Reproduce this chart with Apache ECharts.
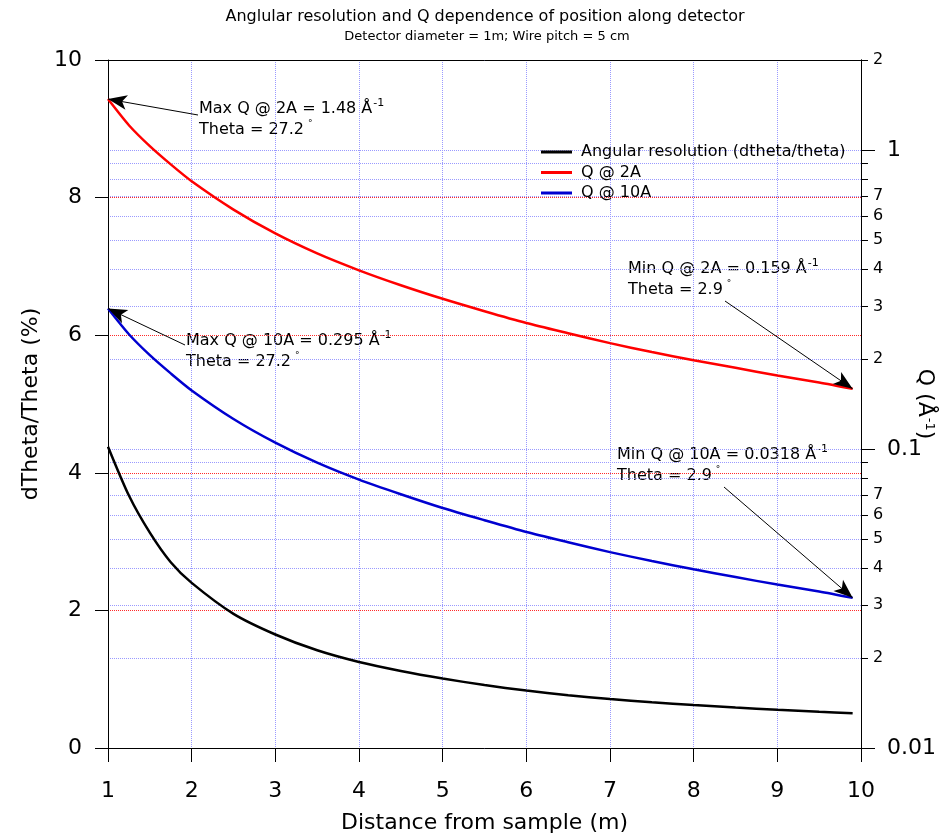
<!DOCTYPE html>
<html>
<head>
<meta charset="utf-8">
<script src="https://cdn.jsdelivr.net/npm/echarts@6/dist/echarts.min.js"></script>
<style>
  html, body { margin: 0; padding: 0; background: #fff; }
  #chart { width: 943px; height: 840px; }
</style>
</head>
<body>
<div id="chart"></div>
<script>
// Sample-to-detector distance (m)
const distance = [1, 1.25, 1.5, 1.75, 2, 2.5, 3, 3.5, 4, 4.5, 5, 5.5, 6, 6.5, 7, 7.5, 8, 8.5, 9, 9.5, 9.9];
// Angular resolution dTheta/Theta (%)
const angularResolution = [4.38, 3.67, 3.13, 2.70, 2.40, 1.95, 1.65, 1.42, 1.25, 1.12, 1.01, 0.915, 0.835, 0.768, 0.712, 0.665, 0.624, 0.588, 0.556, 0.527, 0.506];
// Q (1/Å) at 2 Å and 10 Å wavelength
const q2A = [1.48, 1.21, 1.03, 0.895, 0.786, 0.632, 0.526, 0.451, 0.396, 0.353, 0.318, 0.289, 0.264, 0.244, 0.226, 0.211, 0.198, 0.187, 0.176, 0.167, 0.159];
const q10A = [0.295, 0.242, 0.206, 0.179, 0.157, 0.126, 0.105, 0.090, 0.0790, 0.0706, 0.0635, 0.0578, 0.0528, 0.0488, 0.0452, 0.0422, 0.0396, 0.0373, 0.0352, 0.0334, 0.0318];
// Scattering angle (deg) at nearest / farthest position
const thetaRange = [27.2, 2.9];

// Axis ticks
const qMajorTicks = [0.01, 0.1, 1];
const qMinorTicks = [0.02, 0.03, 0.04, 0.05, 0.06, 0.07, 0.08, 0.09,
                     0.2, 0.3, 0.4, 0.5, 0.6, 0.7, 0.8, 0.9, 2];
const qMinorLabels = [0.02, 0.03, 0.04, 0.05, 0.06, 0.07,
                      0.2, 0.3, 0.4, 0.5, 0.6, 0.7, 2];

const FONT = 'DejaVu Sans';
const BLUE_GRID = '#9a9aff';
const RED_GRID = '#ff2a2a';
const last = distance.length - 1;

const pairs = (ys) => distance.map((x, i) => [x, ys[i]]);
const firstDigit = (v) => String(Math.round(v / Math.pow(10, Math.floor(Math.log10(v) + 1e-9))));

const supRich = {
  sup: { fontSize: 11, fontFamily: FONT, verticalAlign: 'top', padding: [0, 0, 8, 1] },
  deg: { fontSize: 9, fontFamily: FONT, verticalAlign: 'top', padding: [0, 0, 10, 4] }
};

function noteText(prefix, q, theta) {
  return prefix + ' = ' + q + ' Å{sup|-1}\nTheta = ' + theta + '{deg|°}';
}

function arrow(from, series, idx) {
  return [
    { x: from[0], y: from[1] },
    { coord: [distance[idx], series[idx]] }
  ];
}

const qAxisCommon = {
  type: 'log',
  logBase: 10,
  min: 0.01,
  max: 2,
  position: 'right',
  nameMoveOverlap: false,
  axisLine: { show: true, lineStyle: { color: '#000', width: 1 } },
  splitLine: { show: true, lineStyle: { color: BLUE_GRID, type: 'dotted', width: 1 } },
  minorTick: { show: false },
  minorSplitLine: { show: false }
};

const chart = echarts.init(document.getElementById('chart'), null, { renderer: 'canvas' });

chart.setOption({
  animation: false,
  backgroundColor: '#fff',
  textStyle: { fontFamily: FONT, color: '#000' },
  grid: {
    left: 108, right: 82, top: 60, bottom: 92,
    outerBoundsMode: 'none',
    containLabel: false,
    show: false
  },
  legend: {
    orient: 'vertical',
    left: 541,
    top: 142,
    padding: 0,
    itemGap: 0.5,
    itemWidth: 31,
    itemHeight: 3,
    icon: 'rect',
    textStyle: { fontFamily: FONT, fontSize: 16, color: '#000', lineHeight: 20, padding: [0, 0, 0, 4] },
    data: ['Angular resolution (dtheta/theta)', 'Q @ 2A', 'Q @ 10A']
  },
  xAxis: [
    {
      type: 'value',
      min: 1,
      max: 10,
      interval: 1,
      position: 'bottom',
      name: 'Distance from sample (m)',
      nameLocation: 'middle',
      nameGap: 64,
      nameMoveOverlap: false,
      nameTextStyle: { fontFamily: FONT, fontSize: 22, color: '#000' },
      axisLine: { show: true, onZero: false, lineStyle: { color: '#000', width: 1 } },
      axisTick: { show: true, length: 14, lineStyle: { color: '#000' } },
      axisLabel: { fontFamily: FONT, fontSize: 22, color: '#000', margin: 32 },
      splitLine: { show: true, lineStyle: { color: BLUE_GRID, type: 'dotted', width: 1 } }
    },
    {
      // top frame line
      type: 'value',
      min: 1,
      max: 10,
      interval: 1,
      position: 'top',
      axisLine: { show: true, onZero: false, lineStyle: { color: '#000', width: 1 } },
      axisTick: { show: false },
      axisLabel: { show: false },
      splitLine: { show: false }
    }
  ],
  yAxis: [
    {
      type: 'value',
      min: 0,
      max: 10,
      interval: 2,
      position: 'left',
      name: 'dTheta/Theta (%)',
      nameLocation: 'middle',
      nameGap: 66,
      nameMoveOverlap: false,
      nameTextStyle: { fontFamily: FONT, fontSize: 22, color: '#000' },
      axisLine: { show: true, onZero: false, lineStyle: { color: '#000', width: 1 } },
      axisTick: { show: true, length: 13, lineStyle: { color: '#000' } },
      axisLabel: { fontFamily: FONT, fontSize: 22, color: '#000', margin: 26 },
      splitLine: { show: true, lineStyle: { color: RED_GRID, type: 'dotted', width: 1 } }
    },
    Object.assign({}, qAxisCommon, {
      name: 'Q (Å{sup|-1})',
      nameLocation: 'middle',
      nameGap: 52,
      nameRotate: -90,
      nameTextStyle: {
        fontFamily: FONT, fontSize: 22, color: '#000',
        rich: { sup: { fontSize: 13, fontFamily: FONT, verticalAlign: 'top', padding: [0, 0, 10, 1] } }
      },
      axisTick: { show: true, length: 14, customValues: qMajorTicks, lineStyle: { color: '#000' } },
      axisLabel: { show: true, fontFamily: FONT, fontSize: 22, color: '#000', margin: 26,
                   customValues: qMajorTicks, formatter: (v) => String(+v.toPrecision(3)) }
    }),
    Object.assign({}, qAxisCommon, {
      axisTick: { show: true, length: 7, customValues: qMinorTicks, lineStyle: { color: '#000' } },
      axisLabel: { show: true, fontFamily: FONT, fontSize: 16, color: '#000', margin: 12,
                   customValues: qMinorLabels, formatter: firstDigit }
    })
  ],
  series: [
    {
      name: 'Angular resolution (dtheta/theta)',
      type: 'line',
      yAxisIndex: 0,
      data: pairs(angularResolution),
      showSymbol: false,
      smooth: 0.25,
      color: '#000',
      lineStyle: { color: '#000', width: 2.5 }
    },
    {
      name: 'Q @ 2A',
      type: 'line',
      yAxisIndex: 1,
      data: pairs(q2A),
      showSymbol: false,
      smooth: 0.25,
      color: '#ff0000',
      lineStyle: { color: '#ff0000', width: 2.5 },
      markLine: {
        silent: true,
        animation: false,
        symbol: ['none', 'arrow'],
        symbolSize: [11, 19],
        lineStyle: { color: '#000', width: 1, type: 'solid' },
        label: { show: false },
        emphasis: { disabled: true },
        data: [arrow([198, 115], q2A, 0), arrow([725, 301], q2A, last)]
      }
    },
    {
      name: 'Q @ 10A',
      type: 'line',
      yAxisIndex: 1,
      data: pairs(q10A),
      showSymbol: false,
      smooth: 0.25,
      color: '#0000d0',
      lineStyle: { color: '#0000d0', width: 2.5 },
      markLine: {
        silent: true,
        animation: false,
        symbol: ['none', 'arrow'],
        symbolSize: [11, 19],
        lineStyle: { color: '#000', width: 1, type: 'solid' },
        label: { show: false },
        emphasis: { disabled: true },
        data: [arrow([185, 345], q10A, 0), arrow([724, 487], q10A, last)]
      }
    }
  ],
  graphic: [
    { type: 'text', x: 485, y: 17, silent: true,
      style: { text: 'Anglular resolution and Q dependence of position along detector',
               fontFamily: FONT, fontSize: 16, fill: '#000', align: 'center', verticalAlign: 'middle' } },
    { type: 'text', x: 487, y: 37, silent: true,
      style: { text: 'Detector diameter = 1m; Wire pitch = 5 cm',
               fontFamily: FONT, fontSize: 13, fill: '#000', align: 'center', verticalAlign: 'middle' } },
    { type: 'text', x: 199, y: 98, silent: true,
      style: { text: noteText('Max Q @ 2A', q2A[0], thetaRange[0]), rich: supRich,
               fontFamily: FONT, fontSize: 16, lineHeight: 21, fill: '#000', verticalAlign: 'top' } },
    { type: 'text', x: 186, y: 330, silent: true,
      style: { text: noteText('Max Q @ 10A', q10A[0], thetaRange[0]), rich: supRich,
               fontFamily: FONT, fontSize: 16, lineHeight: 21, fill: '#000', verticalAlign: 'top' } },
    { type: 'text', x: 628, y: 258, silent: true,
      style: { text: noteText('Min Q @ 2A', q2A[last], thetaRange[1]), rich: supRich,
               fontFamily: FONT, fontSize: 16, lineHeight: 21, fill: '#000', verticalAlign: 'top' } },
    { type: 'text', x: 617, y: 444, silent: true,
      style: { text: noteText('Min Q @ 10A', q10A[last], thetaRange[1]), rich: supRich,
               fontFamily: FONT, fontSize: 16, lineHeight: 21, fill: '#000', verticalAlign: 'top' } }
  ]
});
</script>
</body>
</html>
